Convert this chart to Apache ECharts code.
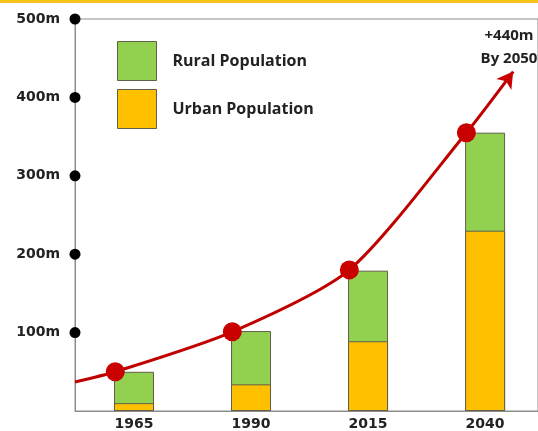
<!DOCTYPE html>
<html>
<head>
<meta charset="utf-8">
<script src="https://cdn.jsdelivr.net/npm/echarts@6/dist/echarts.min.js"></script>
<style>
html,body{margin:0;padding:0;background:#fff;}
#chart{width:538px;height:431px;}
</style>
</head>
<body>
<div id="chart"></div>
<script>
// ---- data ----
const categories = ['1965', '1990', '2015', '2040'];
const urbanValues = [10, 34, 89, 230];
const ruralValues = [40, 68, 90, 125];
const lineYears = [1952.4, 1961, 1986, 2011, 2036, 2046];
const lineValues = [37, 50, 101, 180, 355, 433];
const yTicks = [100, 200, 300, 400, 500];
const seriesNames = ['Rural Population', 'Urban Population'];
const annotation = '+440m\nBy 2050';

// ---- chart ----
const xMin = 1952.4, xMax = 2051.3;
const catYears = categories.map(Number);
const totals = urbanValues.map((u, i) => u + ruralValues[i]);
const FONT = '"Open Sans", "Liberation Sans", Arial, sans-serif';
const AXFONT = '"DejaVu Sans", "Open Sans", sans-serif';
const chart = echarts.init(document.getElementById('chart'), null, {renderer: 'canvas'});

const lineData = lineYears.map((yr, i) => {
  const item = {value: [yr, lineValues[i]]};
  if (i === 0) item.symbol = 'none';
  else if (i === lineYears.length - 1) {
    item.symbol = 'arrow';
    item.symbolSize = [14, 16];
    item.symbolRotate = -36;
  }
  return item;
});

chart.setOption({
  animation: false,
  backgroundColor: '#ffffff',
  grid: {left: 75, right: 0, top: 19, bottom: 20, show: true, borderColor: '#8c8c8c', borderWidth: 1, containLabel: false},
  legend: {
    data: seriesNames,
    orient: 'vertical',
    left: 117, top: 41, padding: 0,
    itemWidth: 39, itemHeight: 39, itemGap: 8,
    icon: 'rect',
    itemStyle: {borderColor: '#5f5f4a', borderWidth: 1},
    textStyle: {fontFamily: FONT, fontWeight: 'bold', fontSize: 16, color: '#222', padding: [0, 0, 0, 11]}
  },
  xAxis: {
    type: 'value', min: xMin, max: xMax,
    axisLine: {show: true, lineStyle: {color: '#8c8c8c', width: 1}},
    axisTick: {show: false},
    splitLine: {show: false},
    axisLabel: {
      customValues: catYears,
      fontFamily: AXFONT, fontWeight: 'bold', fontSize: 14, color: '#222', margin: 6,
      formatter: v => String(v)
    }
  },
  yAxis: {
    type: 'value', min: 0, max: 500, interval: 100,
    axisLine: {show: true, lineStyle: {color: '#8c8c8c', width: 1}},
    axisTick: {show: false},
    splitLine: {show: false},
    axisLabel: {
      fontFamily: AXFONT, fontWeight: 'bold', fontSize: 14, color: '#222', margin: 15,
      formatter: v => yTicks.indexOf(v) >= 0 ? v + 'm' : ''
    }
  },
  graphic: [
    {type: 'rect', left: 0, top: 0, shape: {width: 538, height: 3}, style: {fill: '#f5c21b'}, z: 100},
    {type: 'text', x: 509, y: 24, style: {text: annotation, textAlign: 'center', font: 'bold 15px ' + FONT, fill: '#222', lineHeight: 23}, z: 100}
  ],
  series: [
    {
      // rural sits on top of urban: drawn as the full column, urban overlaid below
      name: 'Rural Population', type: 'bar',
      data: catYears.map((y, i) => [y, totals[i]]),
      barWidth: 40, barGap: '-100%',
      itemStyle: {color: '#92d050', borderColor: '#5f5f4a', borderWidth: 1}
    },
    {
      name: 'Urban Population', type: 'bar',
      data: catYears.map((y, i) => [y, urbanValues[i]]),
      barWidth: 40, barGap: '-100%',
      itemStyle: {color: '#ffc000', borderColor: '#5f5f4a', borderWidth: 1}
    },
    {
      name: 'ticks', type: 'scatter', clip: false,
      data: yTicks.map(v => [xMin, v]),
      symbol: 'circle', symbolSize: 11,
      itemStyle: {color: '#000', opacity: 1}, z: 5
    },
    {
      name: 'growth', type: 'line', clip: false, smooth: 0.25,
      data: lineData,
      showAllSymbol: true,
      symbol: 'circle', symbolSize: 19,
      lineStyle: {color: '#c00000', width: 3},
      itemStyle: {color: '#c80000'},
      z: 10
    }
  ]
});
</script>
</body>
</html>
